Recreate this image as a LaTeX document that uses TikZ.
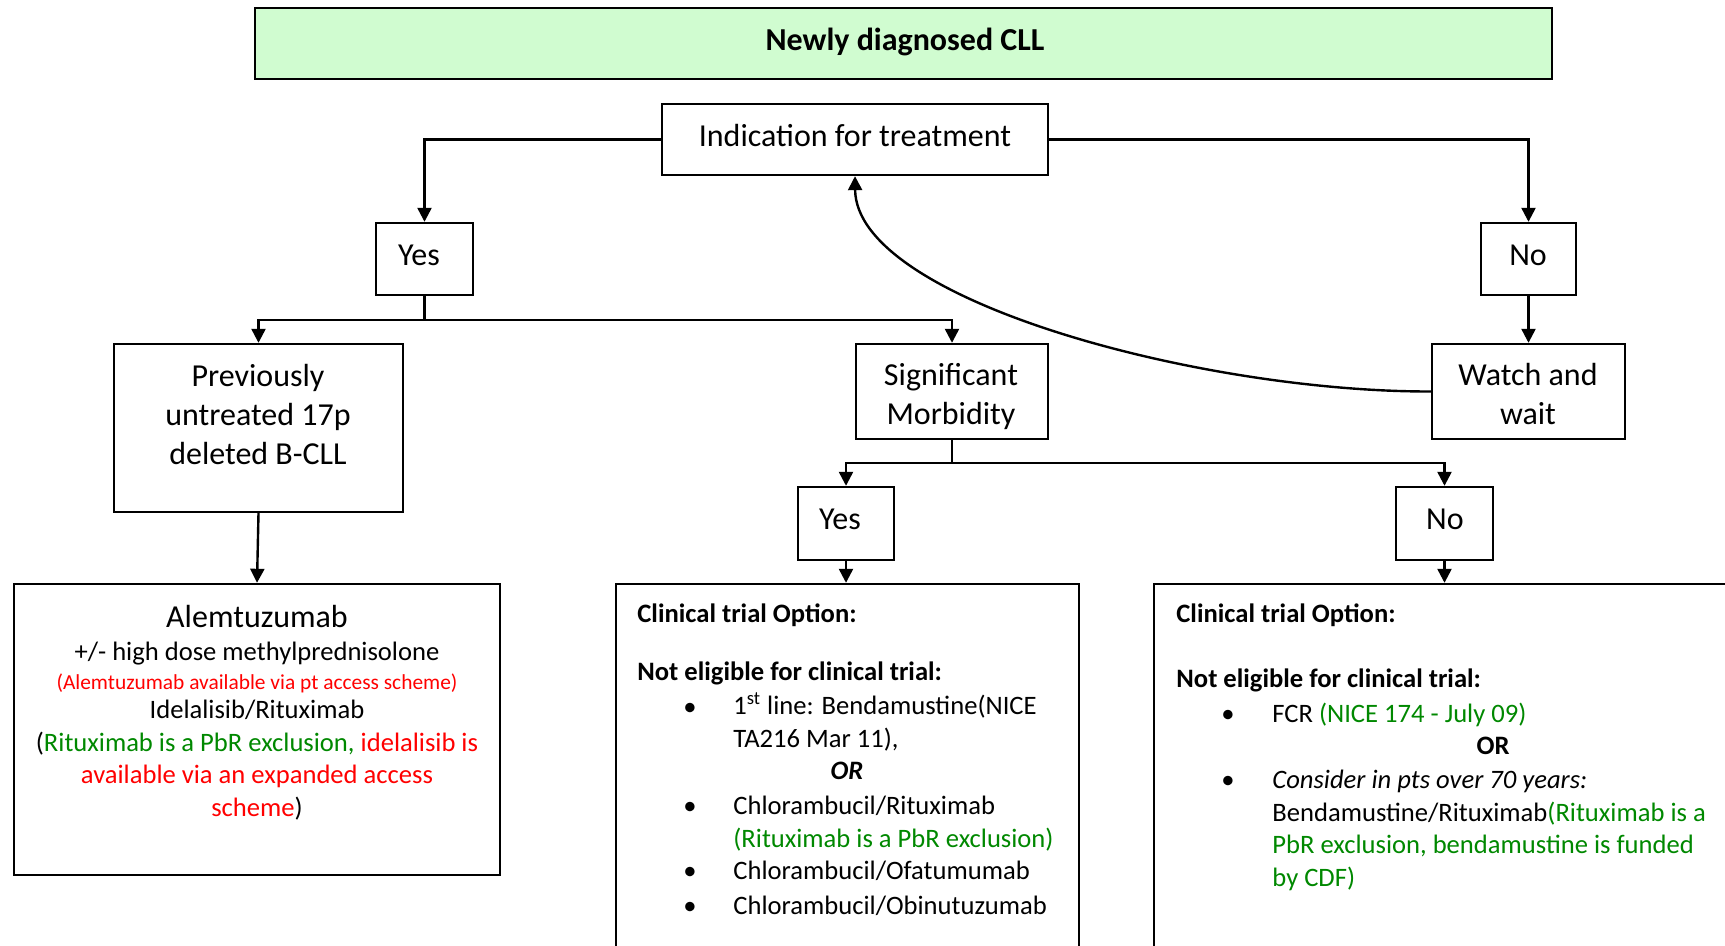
\documentclass[tikz,border=0pt]{standalone}
\usepackage{fontspec}
\setmainfont{Carlito}
\usetikzlibrary{arrows.meta,fit}
\definecolor{titlegreen}{RGB}{208,252,208}
\definecolor{pbrgreen}{RGB}{0,136,0}
\definecolor{alertred}{RGB}{255,0,0}
\begin{document}
\begin{tikzpicture}[x=0.5pt,y=-0.5pt,
  box/.style={draw, line width=1.2pt, inner sep=0pt},
  ln/.style={line width=1.2pt},
  arr/.style={line width=1.2pt, -{Triangle[length=7pt,width=7pt]}},
  titlefont/.style={font=\fontsize{16}{19}\selectfont\bfseries, anchor=base, inner sep=0pt, yshift=-1pt},
  big/.style={font=\fontsize{16}{19.5}\selectfont, anchor=base, inner sep=0pt, align=center, yshift=-1.5pt},
  body/.style={font=\fontsize{13.3}{16.2}\selectfont, anchor=base, inner sep=0pt, align=center, yshift=-1pt},
  bodyl/.style={font=\fontsize{13.3}{16.2}\selectfont, anchor=base west, inner sep=0pt, align=left, yshift=-1pt},
  small/.style={font=\fontsize{10.7}{13}\selectfont, anchor=base, inner sep=0pt, text=alertred, yshift=-1pt},
  bul/.style={font=\fontsize{13.3}{16.2}\selectfont, anchor=base, inner sep=0pt, yshift=-1pt}]
\clip (0,0) rectangle (1725,946);
% boxes
\node[box, fill=titlegreen, fit={(255,8) (1552,79)}] (title) {};
\node[box, fit={(662,104) (1048,175)}] (ind) {};
\node[box, fit={(376,223) (473,295)}] (yes1) {};
\node[box, fit={(1481,223) (1576,295)}] (no1) {};
\node[box, fit={(114,344) (403,512)}] (prev) {};
\node[box, fit={(856,344) (1048,439)}] (sig) {};
\node[box, fit={(1432,344) (1625,439)}] (watch) {};
\node[box, fit={(798,487) (894,560)}] (yes2) {};
\node[box, fit={(1396,487) (1493,560)}] (no2) {};
\node[box, fit={(14,584) (500,875)}] (alem) {};
\node[box, fit={(616,584) (1079,990)}] (mid) {};
\node[box, fit={(1154,584) (1780,990)}] (rgt) {};
% connectors
\coordinate (ys) at (424.5,320);
\coordinate (ss) at (952,463);
\draw[arr] (ind.west) -| (yes1.north);
\draw[arr] (ind.east) -| (no1.north);
\draw[ln] (yes1.south) -- (ys);
\draw[arr] (ys) -| (prev.north);
\draw[arr] (ys) -| (sig.north);
\draw[arr] (no1.south) -- (watch.north);
\draw[arr] (watch.west) .. controls (1200,392) and (856,300) .. (ind.south);
\draw[ln] (sig.south) -- (ss);
\draw[arr] (ss) -| (yes2.north);
\draw[arr] (ss) -| (no2.north);
\draw[arr] (prev.south) -- (alem.north);
\draw[arr] (yes2.south) -- (yes2.south |- mid.north);
\draw[arr] (no2.south) -- (no2.south |- rgt.north);
% texts (multi-line nodes are anchored at the baseline of their last line)
\node[titlefont] (titlet) at (905,49) {Newly diagnosed CLL};
\node[big] (indt) at (855,144) {Indication for treatment};
\node[big] (yes1t) at (419,263) {Yes};
\node[big] (no1t) at (1528,263) {No};
\node[big] (prevt) at (258,462) {Previously\\untreated 17p\\deleted B-CLL};
\node[big] (sigt) at (951,422) {Significant\\Morbidity};
\node[big] (watcht) at (1528,422) {Watch and\\wait};
\node[big] (yes2t) at (840,527) {Yes};
\node[big] (no2t) at (1445,527) {No};
% left box
\node[big] (alem1) at (257,624) {Alemtuzumab};
\node[body] (alem2) at (257,659) {+/- high dose methylprednisolone};
\node[small] (alem3) at (257,687) {(Alemtuzumab available via pt access scheme)};
\node[body] (alem4) at (257,814) {Idelalisib/Rituximab\\(\textcolor{pbrgreen}{Rituximab is a PbR exclusion, }\textcolor{alertred}{idelalisib is}\\\textcolor{alertred}{available via an expanded access}\\\textcolor{alertred}{scheme})};
% middle box
\node[bodyl] (mid1) at (637,620) {\textbf{Clinical trial Option:}};
\node[bodyl] (mid2) at (637,678) {\textbf{Not eligible for clinical trial:}};
\node[bul] (mb1) at (690,713) {\textbullet};
\node[bodyl] (mid3) at (733,745) {1\textsuperscript{st} line: Bendamustine(NICE\\TA216 Mar 11),};
\node[body] (midor) at (847,777) {\textbf{\textit{OR}}};
\node[bul] (mb2) at (690,812) {\textbullet};
\node[bodyl] (mid4) at (733,845) {Chlorambucil/Rituximab\\\textcolor{pbrgreen}{(Rituximab is a PbR exclusion)}};
\node[bul] (mb3) at (690,877) {\textbullet};
\node[bodyl] (mid5) at (733,877) {Chlorambucil/Ofatumumab};
\node[bul] (mb4) at (690,912) {\textbullet};
\node[bodyl] (mid6) at (733,912) {Chlorambucil/Obinutuzumab};
% right box
\node[bodyl] (r1) at (1176,620) {\textbf{Clinical trial Option:}};
\node[bodyl] (r2) at (1176,685) {\textbf{Not eligible for clinical trial:}};
\node[bul] (rb1) at (1228,720) {\textbullet};
\node[bodyl] (r3) at (1272,720) {FCR \textcolor{pbrgreen}{(NICE 174 - July 09)}};
\node[body] (ror) at (1493,752) {\textbf{OR}};
\node[bul] (rb2) at (1228,786) {\textbullet};
\node[bodyl] (r4) at (1272,884) {\textit{Consider in pts over 70 years:}\\Bendamustine/Rituximab\textcolor{pbrgreen}{(Rituximab is a}\\\textcolor{pbrgreen}{PbR exclusion, bendamustine is funded}\\\textcolor{pbrgreen}{by CDF)}};
\end{tikzpicture}
\end{document}
